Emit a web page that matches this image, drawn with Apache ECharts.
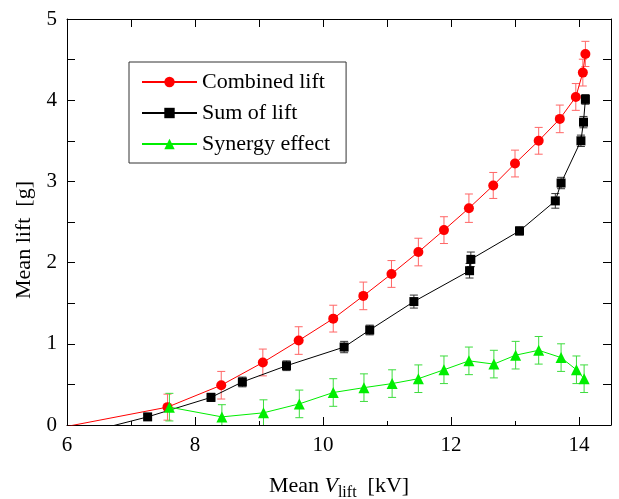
<!DOCTYPE html>
<html>
<head>
<meta charset="utf-8">
<script src="https://cdn.jsdelivr.net/npm/echarts@6/dist/echarts.min.js"></script>
<style>
  html, body { margin: 0; padding: 0; background: #fff; }
  #chart { width: 619px; height: 499px; }
</style>
</head>
<body>
<div id="chart"></div>
<script type="text/javascript">
    // 数据
    var combinedX = [5.95, 7.57, 8.41, 9.06, 9.62, 10.16, 10.63, 11.07, 11.49, 11.89, 12.28, 12.66, 13.00, 13.37, 13.70, 13.95, 14.06, 14.10];
    var combinedY = [-0.025, 0.22, 0.49, 0.77, 1.04, 1.31, 1.59, 1.86, 2.13, 2.40, 2.67, 2.95, 3.22, 3.50, 3.77, 4.04, 4.34, 4.57];
    var combinedErr = [0, 0.16, 0.17, 0.165, 0.17, 0.165, 0.17, 0.165, 0.17, 0.165, 0.175, 0.16, 0.165, 0.165, 0.17, 0.165, 0.165, 0.155];

    var sumX = [6.49, 7.26, 8.25, 8.74, 9.43, 10.33, 10.73, 11.42, 12.29, 12.31, 13.07, 13.63, 13.72, 14.03, 14.07, 14.10];
    var sumY = [-0.055, 0.10, 0.34, 0.53, 0.73, 0.96, 1.17, 1.52, 1.90, 2.04, 2.39, 2.76, 2.98, 3.50, 3.73, 4.01];
    var sumErr = [0, 0.03, 0.05, 0.06, 0.06, 0.07, 0.06, 0.08, 0.09, 0.09, 0.05, 0.09, 0.07, 0.07, 0.07, 0.06];

    var synergyX = [7.60, 8.42, 9.07, 9.63, 10.16, 10.64, 11.08, 11.49, 11.89, 12.28, 12.67, 13.01, 13.37, 13.72, 13.96, 14.08];
    var synergyY = [0.22, 0.10, 0.15, 0.26, 0.40, 0.46, 0.51, 0.57, 0.68, 0.79, 0.75, 0.86, 0.92, 0.83, 0.68, 0.57];
    var synergyErr = [0.17, 0.15, 0.16, 0.17, 0.17, 0.17, 0.17, 0.17, 0.17, 0.17, 0.17, 0.17, 0.17, 0.17, 0.17, 0.17];

    var seriesNames = ['Combined lift', 'Sum of lift', 'Synergy effect'];

    var FONT = '"Liberation Serif", "DejaVu Serif", serif';

    function pairs(xs, ys) {
        return xs.map(function (x, i) { return [x, ys[i]]; });
    }
    function errData(xs, ys, es) {
        var out = [];
        xs.forEach(function (x, i) {
            if (es[i] > 0) out.push([x, ys[i] - es[i], ys[i] + es[i]]);
        });
        return out;
    }
    // 误差棒
    function errRender(color) {
        return function (params, api) {
            var x = api.value(0);
            var p1 = api.coord([x, api.value(1)]);
            var p2 = api.coord([x, api.value(2)]);
            var w = 4;
            var st = { stroke: color, lineWidth: 1 };
            return {
                type: 'group',
                children: [
                    { type: 'line', shape: { x1: p1[0], y1: p1[1], x2: p2[0], y2: p2[1] }, style: st },
                    { type: 'line', shape: { x1: p1[0] - w, y1: p1[1], x2: p1[0] + w, y2: p1[1] }, style: st },
                    { type: 'line', shape: { x1: p2[0] - w, y1: p2[1], x2: p2[0] + w, y2: p2[1] }, style: st }
                ]
            };
        };
    }

    var myChart = echarts.init(document.getElementById('chart'));

    var tickLabel = { color: '#000', fontFamily: FONT, fontSize: 21 };

    var option = {
        animation: false,
        backgroundColor: '#fff',
        grid: { left: 67, right: 8, top: 19, bottom: 74, containLabel: false, outerBoundsMode: 'none' },
        legend: {
            data: seriesNames,
            orient: 'vertical',
            left: 129,
            top: 62,
            itemWidth: 55,
            itemHeight: 13,
            itemGap: 9,
            padding: [9, 16, 8, 12],
            borderColor: '#333',
            borderWidth: 1,
            textStyle: { color: '#000', fontFamily: FONT, fontSize: 22, lineHeight: 22 }
        },
        xAxis: [
            {
                type: 'value', position: 'bottom', min: 6, max: 14.5, interval: 2,
                axisLine: { show: true, onZero: false, lineStyle: { color: '#000', width: 1 } },
                axisTick: { inside: true, length: 8, lineStyle: { color: '#000' } },
                axisLabel: Object.assign({ margin: 10, formatter: function (v) { return v % 1 === 0 ? String(v) : ''; } }, tickLabel),
                splitLine: { show: false },
                name: '{a|Mean }{v|V}{s|lift}{a|  [kV]}',
                nameLocation: 'middle',
                nameGap: 46,
                nameTextStyle: {
                    rich: {
                        a: { fontFamily: FONT, fontSize: 22, color: '#000', lineHeight: 30, verticalAlign: 'middle' },
                        v: { fontFamily: FONT, fontSize: 22, fontStyle: 'italic', color: '#000', lineHeight: 30, verticalAlign: 'middle' },
                        s: { fontFamily: FONT, fontSize: 16, color: '#000', lineHeight: 30, verticalAlign: 'bottom' }
                    }
                }
            },
            {
                type: 'value', position: 'bottom', min: 6, max: 14.5, interval: 1,
                axisLine: { show: false, onZero: false },
                axisTick: { inside: true, length: 4, lineStyle: { color: '#000' } },
                axisLabel: { show: false },
                splitLine: { show: false }
            },
            {
                type: 'value', position: 'top', min: 6, max: 14.5, interval: 1,
                axisLine: { show: true, onZero: false, lineStyle: { color: '#000', width: 1 } },
                axisTick: { inside: true, length: 8, lineStyle: { color: '#000' } },
                axisLabel: { show: false },
                splitLine: { show: false }
            }
        ],
        yAxis: [
            {
                type: 'value', position: 'left', min: 0, max: 5, interval: 0.5,
                axisLine: { show: true, onZero: false, lineStyle: { color: '#000', width: 1 } },
                axisTick: { inside: true, length: 8, lineStyle: { color: '#000' } },
                axisLabel: Object.assign({ margin: 10, formatter: function (v) { return v % 1 === 0 ? String(v) : ''; } }, tickLabel),
                splitLine: { show: false },
                name: 'Mean lift  [g]',
                nameLocation: 'middle',
                nameGap: 27,
                nameTextStyle: { fontFamily: FONT, fontSize: 22, color: '#000', padding: [0, 36, 0, 0] }
            },
            {
                type: 'value', position: 'right', min: 0, max: 5, interval: 0.5,
                axisLine: { show: true, onZero: false, lineStyle: { color: '#000', width: 1 } },
                axisTick: { inside: true, length: 8, lineStyle: { color: '#000' } },
                axisLabel: { show: false },
                splitLine: { show: false }
            }
        ],
        series: [
            {
                name: 'err-combined', type: 'custom', xAxisIndex: 0, yAxisIndex: 0,
                renderItem: errRender('#ff6666'), encode: { x: 0, y: [1, 2] }, clip: true, z: 2,
                data: errData(combinedX, combinedY, combinedErr)
            },
            {
                name: 'err-sum', type: 'custom', xAxisIndex: 0, yAxisIndex: 0,
                renderItem: errRender('#333'), encode: { x: 0, y: [1, 2] }, clip: true, z: 2,
                data: errData(sumX, sumY, sumErr)
            },
            {
                name: 'err-synergy', type: 'custom', xAxisIndex: 0, yAxisIndex: 0,
                renderItem: errRender('#3ddc3d'), encode: { x: 0, y: [1, 2] }, clip: true, z: 2,
                data: errData(synergyX, synergyY, synergyErr)
            },
            {
                name: seriesNames[0], type: 'line', xAxisIndex: 0, yAxisIndex: 0, clip: true, z: 3,
                symbol: 'circle', symbolSize: 10, showAllSymbol: true,
                itemStyle: { color: '#ff0000' },
                lineStyle: { color: '#ff0000', width: 1 },
                data: pairs(combinedX, combinedY)
            },
            {
                name: seriesNames[1], type: 'line', xAxisIndex: 0, yAxisIndex: 0, clip: true, z: 3,
                symbol: 'rect', symbolSize: 9, showAllSymbol: true,
                itemStyle: { color: '#000' },
                lineStyle: { color: '#000', width: 1 },
                data: pairs(sumX, sumY)
            },
            {
                name: seriesNames[2], type: 'line', xAxisIndex: 0, yAxisIndex: 0, clip: true, z: 3,
                symbol: 'triangle', symbolSize: 11, showAllSymbol: true,
                itemStyle: { color: '#00ee00' },
                lineStyle: { color: '#00ee00', width: 1 },
                data: pairs(synergyX, synergyY)
            }
        ]
    };
    myChart.setOption(option);
</script>
</body>
</html>
